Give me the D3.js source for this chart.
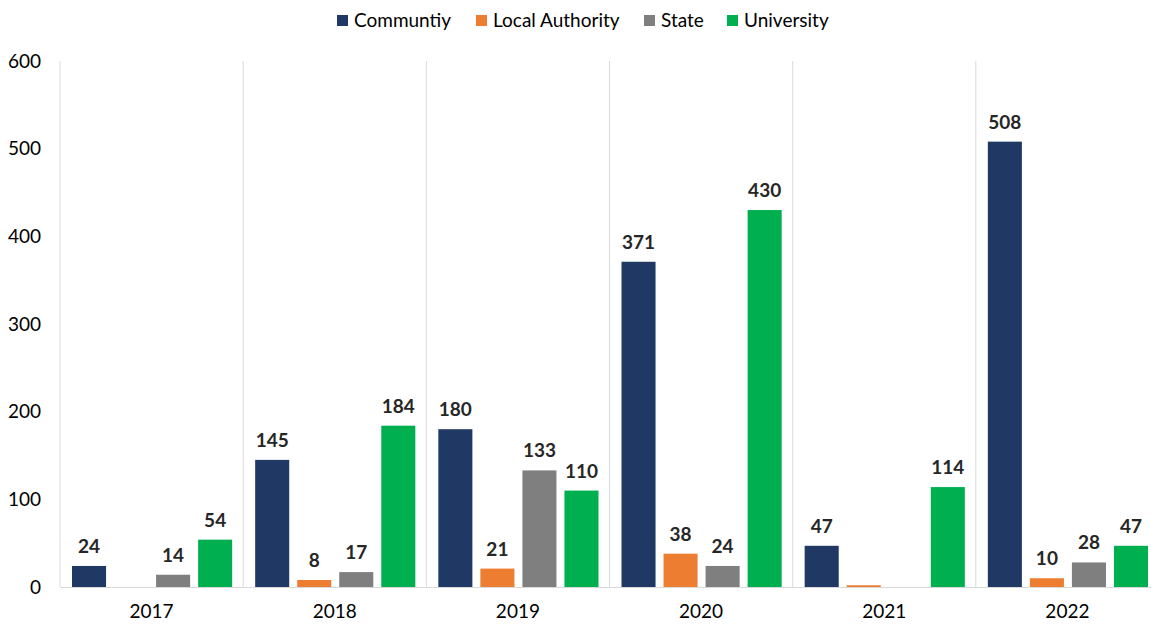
<!DOCTYPE html>
<html>
<head>
<meta charset="utf-8">
<script src="https://cdn.jsdelivr.net/npm/d3@7"></script>
<style>
  html, body { margin: 0; padding: 0; background: #fff; }
  svg { display: block; font-family: Lato, "Open Sans", sans-serif; }
</style>
</head>
<body>
<svg id="chart" width="1151" height="624"></svg>
<script>
// Yearly counts by sector
const years = ["2017", "2018", "2019", "2020", "2021", "2022"];
const seriesNames = ["Communtiy", "Local Authority", "State", "University"];
const community = [24, 145, 180, 371, 47, 508];
const localAuthority = [null, 8, 21, 38, 2, 10];
const state = [14, 17, 133, 24, null, 28];
const university = [54, 184, 110, 430, 114, 47];
const yTicks = [0, 100, 200, 300, 400, 500, 600];
const colors = ["#203864", "#ED7D31", "#7F7F7F", "#00B050"];

const seriesValues = [community, localAuthority, state, university];

(function drawChart() {
  const svg = d3.select("#chart");
  const plotLeft = 60, plotRight = 1159, plotTop = 61, plotBottom = 587;
  const fontSize = 19;

  const x0 = d3.scaleBand().domain(years).range([plotLeft, plotRight]).padding(0);
  const x1 = d3.scaleBand().domain(seriesNames)
    .range([12, x0.bandwidth() - 11]).paddingInner(0.19).paddingOuter(0);
  const y = d3.scaleLinear().domain([0, 600]).range([plotBottom, plotTop]);
  const color = d3.scaleOrdinal().domain(seriesNames).range(colors);

  // Category separators
  svg.append("g").selectAll("line")
    .data(d3.range(years.length + 1))
    .join("line")
    .attr("x1", i => plotLeft + i * x0.step())
    .attr("x2", i => plotLeft + i * x0.step())
    .attr("y1", plotTop)
    .attr("y2", plotBottom)
    .attr("stroke", "#d9d9d9")
    .attr("stroke-width", 1);

  // Y axis (labels only)
  svg.append("g")
    .attr("transform", `translate(${plotLeft},0)`)
    .call(d3.axisLeft(y).tickValues(yTicks).tickSize(0).tickPadding(19))
    .call(g => g.select(".domain").remove())
    .selectAll("text")
    .attr("font-size", fontSize)
    .attr("fill", "#000")
    .attr("font-family", "Lato, 'Open Sans', sans-serif");

  // X axis baseline and year labels
  svg.append("g")
    .attr("transform", `translate(0,${plotBottom})`)
    .call(d3.axisBottom(x0).tickSize(0).tickPadding(18))
    .call(g => g.select(".domain").attr("stroke", "#d9d9d9"))
    .selectAll("text")
    .attr("font-size", fontSize)
    .attr("fill", "#000")
    .attr("font-family", "Lato, 'Open Sans', sans-serif");

  // Bars
  const rows = years.map((yr, i) => ({
    year: yr,
    values: seriesNames.map((s, j) => ({ series: s, value: seriesValues[j][i] }))
  }));

  const groups = svg.append("g").selectAll("g")
    .data(rows)
    .join("g")
    .attr("transform", d => `translate(${x0(d.year)},0)`);

  groups.selectAll("rect")
    .data(d => d.values.filter(v => v.value != null))
    .join("rect")
    .attr("x", d => x1(d.series))
    .attr("width", x1.bandwidth())
    .attr("y", d => y(d.value))
    .attr("height", d => y(0) - y(d.value))
    .attr("fill", d => color(d.series));

  // Value labels (tiny bars are left unlabelled)
  groups.selectAll("text.val")
    .data(d => d.values.filter(v => v.value != null && v.value >= 5))
    .join("text")
    .attr("class", "val")
    .attr("x", d => x1(d.series) + x1.bandwidth() / 2)
    .attr("y", d => y(d.value) - 13)
    .attr("text-anchor", "middle")
    .attr("font-size", fontSize)
    .attr("font-weight", "bold")
    .attr("fill", "#262626")
    .text(d => d.value);

  // Legend
  const legendX = [337, 476, 644, 727];
  const legend = svg.append("g").selectAll("g")
    .data(seriesNames)
    .join("g")
    .attr("transform", (d, i) => `translate(${legendX[i]},0)`);
  legend.append("rect")
    .attr("x", 0).attr("y", 15).attr("width", 11).attr("height", 11)
    .attr("fill", d => color(d));
  legend.append("text")
    .attr("x", 17).attr("y", 27)
    .attr("font-size", fontSize)
    .attr("fill", "#000")
    .text(d => d);
})();
</script>
</body>
</html>
